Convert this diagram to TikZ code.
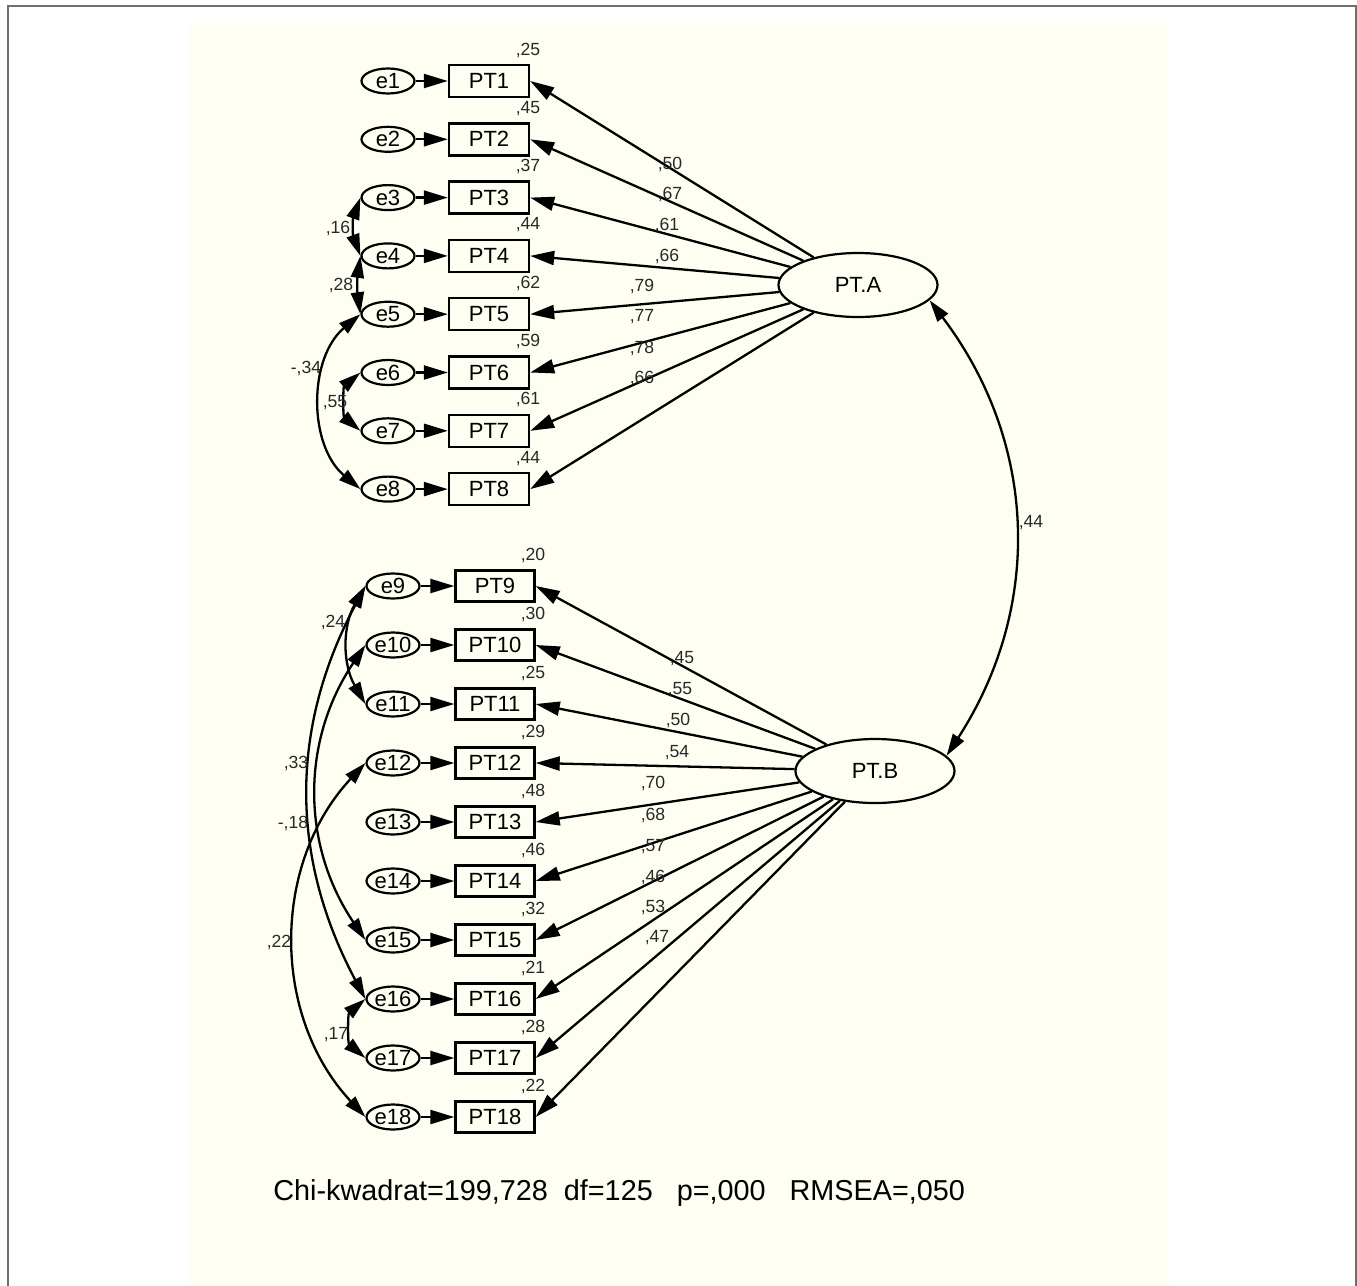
\documentclass[tikz,border=0pt]{standalone}
\usepackage{fontspec}
\setmainfont{Liberation Sans}
\usetikzlibrary{arrows.meta,shapes.geometric}
\definecolor{cream}{RGB}{254,254,242}
\definecolor{framegray}{RGB}{110,110,110}
\definecolor{labgray}{RGB}{40,40,40}
\newcommand\nodefont{\fontsize{11}{13}\selectfont}
\newcommand\labfont{\fontsize{8.8}{10}\selectfont}
\newcommand\chifont{\fontsize{14.4}{17}\selectfont}
\begin{document}
\begin{tikzpicture}[x=0.5pt,y=-0.5pt,
  obs/.style={draw, line width=1.2pt, rectangle, minimum width=40pt, minimum height=16pt, inner sep=0pt, font=\nodefont},
  err/.style={draw, line width=1.1pt, ellipse, minimum width=26.5pt, minimum height=12.5pt, inner sep=0pt, font=\nodefont},
  lat/.style={draw, line width=1.1pt, ellipse, minimum width=79.5pt, minimum height=32pt, inner sep=0pt, font=\nodefont},
  regr/.style={line width=1.15pt, -{Triangle[length=12pt,width=7pt]}},
  cov/.style={line width=1.15pt, {Triangle[length=11pt,width=6.5pt]}-{Triangle[length=11pt,width=6.5pt]}},
  lab/.style={font=\labfont, inner sep=0pt, text=labgray},
]
\useasboundingbox (0,0) rectangle (1357,1286);
\fill[cream] (190,23) rectangle (1169,1286);
\draw[framegray, line width=1pt] (8,1286) -- (8,6) -- (1356,6) -- (1356,1286);

% latent variables
\node[lat] (A) at (858,285) {PT.A};
\node[lat] (B) at (875,771) {PT.B};

% top block
\foreach \i in {1,...,8} {
  \pgfmathsetmacro\yy{81+(\i-1)*58.3}
  \node[err] (e\i) at (388,\yy) {e\i};
  \node[obs] (PT\i) at (489,\yy) {PT\i};
  \draw[regr] (e\i) -- (PT\i);
  \draw[regr] (A) -- (PT\i.east);
}
\foreach \i/\v in {1/25,2/45,3/37,4/44,5/62,6/59,7/61,8/44} {
  \pgfmathsetmacro\yy{81+(\i-1)*58.3-31}
  \node[lab] (r\i) at (528,\yy) {,\v};
}
\foreach \i/\v/\x/\y in {1/50/670/164,2/67/670/194,3/61/667/225,4/66/667/256,5/79/642/286,6/77/642/317,7/78/642/348,8/66/642/378} {
  \node[lab] (w\i) at (\x,\y) {,\v};
}

% bottom block
\foreach \i in {9,...,18} {
  \pgfmathsetmacro\yy{586+(\i-9)*59}
  \node[err] (e\i) at (393,\yy) {e\i};
  \node[obs, minimum width=39.5pt, minimum height=15.5pt] (PT\i) at (495,\yy) {PT\i};
  \draw[regr] (e\i) -- (PT\i);
  \draw[regr] (B) -- (PT\i.east);
}
\foreach \i/\v in {9/20,10/30,11/25,12/29,13/48,14/46,15/32,16/21,17/28,18/22} {
  \pgfmathsetmacro\yy{586+(\i-9)*59-31}
  \node[lab] (r\i) at (533,\yy) {,\v};
}
\foreach \i/\v/\x/\y in {9/45/682/659,10/55/680/690,11/50/678/720,12/54/677/753,13/70/653/783,14/68/653/815,15/57/653/847,16/46/653/877,17/53/653/907,18/47/657/938} {
  \node[lab] (w\i) at (\x,\y) {,\v};
}

% covariances
\draw[cov] (e3.west) to[bend right=20] (e4.west);
\draw[cov] (e4.west) to[bend right=8] (e5.west);
\draw[cov] (e5.west) to[bend right=50] (e8.west);
\draw[cov] (e6.west) to[bend right=50] (e7.west);
\draw[cov] (e9.west) to[bend right=30] (e11.west);
\draw[cov] (e9.west) to[bend right=28] (e16.west);
\draw[cov] (e10.west) to[bend right=34] (e15.west);
\draw[cov] (e12.west) to[bend right=43] (e18.west);
\draw[cov] (e16.west) to[bend right=50] (e17.west);
\draw[cov] (A.-12) to[bend left=35] (B.12);

\node[lab] (c1) at (338,228) {,16};
\node[lab] (c2) at (341,285) {,28};
\node[lab] (c3) at (306,368) {-,34};
\node[lab] (c4) at (335,403) {,55};
\node[lab] (c5) at (333,622) {,24};
\node[lab] (c6) at (296,763) {,33};
\node[lab] (c7) at (293,823) {-,18};
\node[lab] (c8) at (279,942) {,22};
\node[lab] (c9) at (336,1035) {,17};
\node[lab] (c10) at (1031,523) {,44};

\node[font=\chifont, anchor=west, inner sep=0pt] (fit) at (273,1193) {Chi-kwadrat=199,728\ \ df=125\ \ \ p=,000\ \ \ RMSEA=,050};
\end{tikzpicture}
\end{document}
